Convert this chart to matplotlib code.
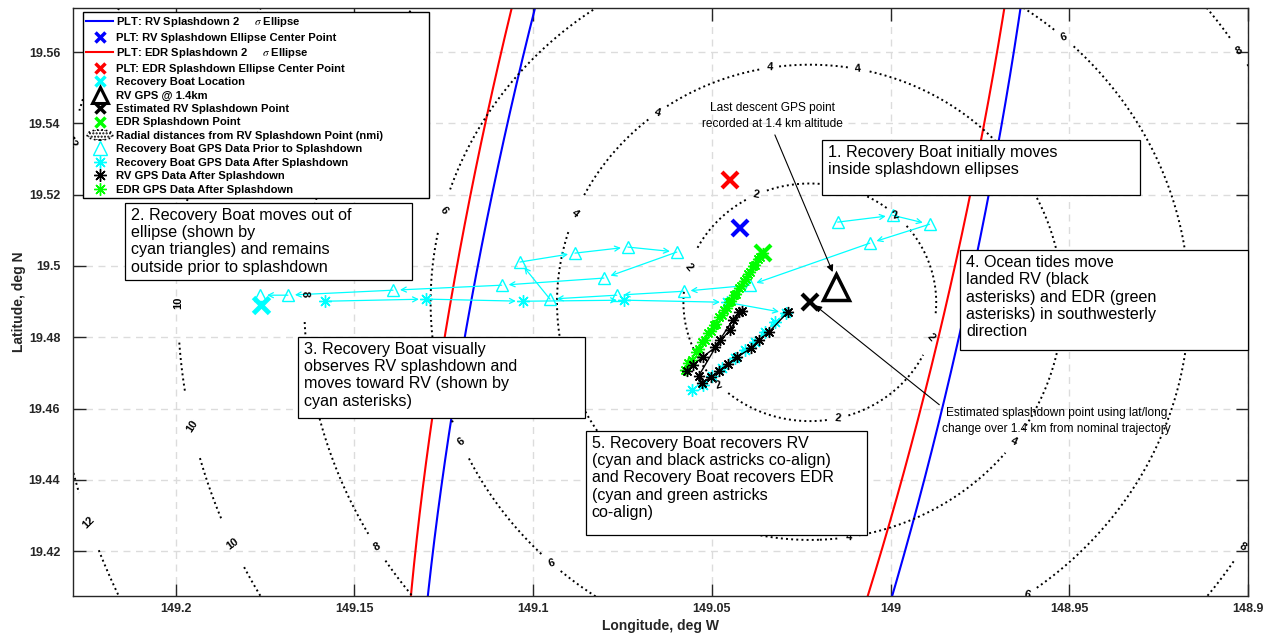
import numpy as np
import matplotlib
matplotlib.use('Agg')
import matplotlib.pyplot as plt
from matplotlib.lines import Line2D
from matplotlib.patches import Ellipse, Rectangle
from matplotlib.legend_handler import HandlerPatch

plt.rcParams['font.family'] = ['Liberation Sans', 'DejaVu Sans']
plt.rcParams['mathtext.fontset'] = 'stix'

# --- data (lon in deg W, lat in deg N) ---
rv_center = (149.0422, 19.5106)      # PLT RV ellipse center point
edr_center = (149.0450, 19.5241)     # PLT EDR ellipse center point
# 2-sigma ellipses: center lon, center lat, semi-major (nmi), semi-minor (nmi), heading (deg from N)
rv_ellipse = (149.0439, 19.5106, 17.7, 3.86, 11.2)
edr_ellipse = (149.0468, 19.5241, 17.6, 3.88, 11.3)

boat_loc = (149.1761, 19.4890)
rv_gps_14km = (149.0154, 19.4941)
rv_est = (149.0226, 19.4898)
edr_splash = (149.0358, 19.5036)

radii = [2, 4, 6, 8, 10, 12]

boat_prior_lon = [149.0148, 148.9994, 148.9891, 149.0058, 149.0394, 149.0579, 149.0766,
                  149.0953, 149.1037, 149.0883, 149.0735, 149.0598, 149.0802, 149.1088,
                  149.1392, 149.1686, 149.1764]
boat_prior_lat = [19.5123, 19.5142, 19.5117, 19.5064, 19.4946, 19.4929, 19.4918,
                  19.4907, 19.5011, 19.5036, 19.5053, 19.5039, 19.4966, 19.4946,
                  19.4932, 19.4918, 19.4918]

boat_after_lon = [149.1583, 149.1300, 149.1029, 149.0746, 149.0458, 149.0293, 149.0324,
                  149.0352, 149.0380, 149.0408, 149.0436, 149.0472, 149.0500, 149.0525,
                  149.0556]
boat_after_lat = [19.4901, 19.4907, 19.4901, 19.4904, 19.4898, 19.4868, 19.4842,
                  19.4814, 19.4786, 19.4764, 19.4741, 19.4713, 19.4691, 19.4666,
                  19.4652]

rv_after_lon = [149.0288, 149.0341, 149.0369, 149.0391, 149.0430, 149.0455, 149.0481,
                149.0503, 149.0528, 149.0537, 149.0478, 149.0442, 149.0425, 149.0416,
                149.0450, 149.0490, 149.0525, 149.0553, 149.0570]
rv_after_lat = [19.4870, 19.4814, 19.4792, 19.4769, 19.4744, 19.4725, 19.4705,
                19.4688, 19.4671, 19.4691, 19.4792, 19.4848, 19.4870, 19.4873,
                19.4820, 19.4772, 19.4745, 19.4722, 19.4705]

edr_after_lon = [149.0358, 149.0366, 149.0371, 149.0379, 149.0384, 149.0392, 149.0398,
                 149.0405, 149.0411, 149.0419, 149.0425, 149.0432, 149.0438, 149.0446,
                 149.0452, 149.0459, 149.0466, 149.0473, 149.0480, 149.0488, 149.0495,
                 149.0502, 149.0510, 149.0518, 149.0527, 149.0536, 149.0545, 149.0556,
                 149.0566, 149.0575]
edr_after_lat = [19.5036, 19.5024, 19.5019, 19.5003, 19.4999, 19.4983, 19.4978,
                 19.4963, 19.4959, 19.4943, 19.4939, 19.4922, 19.4918, 19.4901,
                 19.4898, 19.4882, 19.4877, 19.4861, 19.4856, 19.4838, 19.4834,
                 19.4817, 19.4811, 19.4793, 19.4786, 19.4766, 19.4759, 19.4736,
                 19.4727, 19.4708]

xticks = [149.2, 149.15, 149.1, 149.05, 149.0, 148.95, 148.9]
xtick_labels = ['149.2', '149.15', '149.1', '149.05', '149', '148.95', '148.9']
yticks = [19.42, 19.44, 19.46, 19.48, 19.5, 19.52, 19.54, 19.56]
ytick_labels = ['19.42', '19.44', '19.46', '19.48', '19.5', '19.52', '19.54', '19.56']


def nmi_to_deg(center, east, north):
    lon = center[0] - east / (60 * np.cos(np.radians(center[1])))
    lat = center[1] + north / 60
    return lon, lat


def ellipse_xy(params):
    clon, clat, a, b, phi = params
    t = np.linspace(0, 2 * np.pi, 721)
    p = np.radians(phi)
    east = a * np.cos(t) * np.sin(p) + b * np.sin(t) * np.cos(p)
    north = a * np.cos(t) * np.cos(p) - b * np.sin(t) * np.sin(p)
    return nmi_to_deg((clon, clat), east, north)


fig = plt.figure(figsize=(12.65, 6.36), dpi=100)
ax = fig.add_axes([0.0575, 0.0629, 0.9291, 0.9241])

# ellipses
ex, ey = ellipse_xy(rv_ellipse)
ax.plot(ex, ey, color='#0000ff', lw=1.5, zorder=2)
ex, ey = ellipse_xy(edr_ellipse)
ax.plot(ex, ey, color='#ff0000', lw=1.5, zorder=2)

# radial distance contours around the estimated RV splashdown point
glon = np.linspace(148.85, 149.30, 600)
glat = np.linspace(19.36, 19.62, 400)
LON, LAT = np.meshgrid(glon, glat)
dist = np.hypot((rv_est[0] - LON) * 60 * np.cos(np.radians(rv_est[1])), (LAT - rv_est[1]) * 60)
cs = ax.contour(LON, LAT, dist, levels=radii, colors='k', linestyles=':', linewidths=1.4, zorder=2)

label_angles = {2: [115, 163, 224, 283, 343, 47], 4: [99, 79, 127, 158, 324, 279],
                6: [165, 203, 227, 48, 305], 8: [179, 211, 32, 329],
                10: [180, 192, 204], 12: [167, 198]}
label_pos = []
for r, angs in label_angles.items():
    for a in angs:
        th = np.radians(a)
        label_pos.append(nmi_to_deg(rv_est, r * np.cos(th), r * np.sin(th)))
ax.clabel(cs, manual=label_pos, inline=True, fmt='%d', fontsize=8, inline_spacing=4)
for t in cs.labelTexts:
    t.set_fontweight('bold')

# boat track prior to splashdown
for i in range(len(boat_prior_lon) - 1):
    ax.annotate('', xy=(boat_prior_lon[i + 1], boat_prior_lat[i + 1]),
                xytext=(boat_prior_lon[i], boat_prior_lat[i]),
                arrowprops=dict(arrowstyle='->', color='#00ffff', lw=0.9,
                                shrinkA=0, shrinkB=5, mutation_scale=9), zorder=3)
ax.plot(boat_prior_lon, boat_prior_lat, ls='none', marker='^', ms=9, mfc='none',
        mec='#00ffff', mew=1, zorder=3)

# boat track after splashdown
for i in range(len(boat_after_lon) - 1):
    ax.annotate('', xy=(boat_after_lon[i + 1], boat_after_lat[i + 1]),
                xytext=(boat_after_lon[i], boat_after_lat[i]),
                arrowprops=dict(arrowstyle='->', color='#00ffff', lw=0.9,
                                shrinkA=0, shrinkB=5, mutation_scale=9), zorder=3)
ast = (8, 2, 0)
ax.plot(boat_after_lon, boat_after_lat, ls='none', marker=ast, ms=9,
        mec='#00ffff', mew=1, zorder=3)

ax.plot(edr_after_lon, edr_after_lat, color='#00ff00', lw=1, marker=ast, ms=8,
        mec='#00ff00', mew=1, zorder=4)
ax.plot(rv_after_lon, rv_after_lat, color='k', lw=1, marker=ast, ms=8,
        mec='k', mew=1, zorder=4)

# point markers
ax.plot(*rv_center, marker='x', ms=11, mew=3, color='#0000ff', zorder=5)
ax.plot(*edr_center, marker='x', ms=11, mew=3, color='#ff0000', zorder=5)
ax.plot(*boat_loc, marker='x', ms=12, mew=3.5, color='#00ffff', zorder=5)
ax.plot(*rv_est, marker='x', ms=11, mew=3, color='k', zorder=5)
ax.plot(*edr_splash, marker='x', ms=11, mew=3, color='#00ff00', zorder=5)
ax.plot(*rv_gps_14km, marker='^', ms=19, mew=2.5, mfc='none', mec='k', zorder=5)

# small annotations with arrows
ax.annotate('Last descent GPS point\nrecorded at 1.4 km altitude',
            xy=(149.0162, 19.4983), xytext=(149.0330, 19.5422), ha='center', va='center',
            fontsize=8.6, linespacing=1.45,
            arrowprops=dict(arrowstyle='-|>', color='k', lw=0.8, mutation_scale=10,
                            shrinkA=2, shrinkB=0, relpos=(0.5, 0)), zorder=6)
ax.annotate('Estimated splashdown point using lat/long\nchange over 1.4 km from nominal trajectory',
            xy=(149.0212, 19.4890), xytext=(148.9536, 19.4565), ha='center', va='center',
            fontsize=8.6, linespacing=1.45,
            arrowprops=dict(arrowstyle='-|>', color='k', lw=0.8, mutation_scale=10,
                            shrinkA=0, shrinkB=0, relpos=(0, 1)), zorder=6)

# text boxes (axes fraction: left, top, right, bottom)
notes = [
    ((0.6375, 0.7759, 0.9081, 0.6823), '1. Recovery Boat initially moves\ninside splashdown ellipses'),
    ((0.0445, 0.6687, 0.2887, 0.5377), '2. Recovery Boat moves out of\nellipse (shown by\ncyan triangles) and remains\noutside prior to splashdown'),
    ((0.1917, 0.4407, 0.4359, 0.3029), '3. Recovery Boat visually\nobserves RV splashdown and\nmoves toward RV (shown by\ncyan asterisks)'),
    ((0.7550, 0.5887, 1.0, 0.4186), '4. Ocean tides move\nlanded RV (black\nasterisks) and EDR (green\nasterisks) in southwesterly\ndirection'),
    ((0.4365, 0.2808, 0.6758, 0.1038), '5. Recovery Boat recovers RV\n(cyan and black astricks co-align)\nand Recovery Boat recovers EDR\n(cyan and green astricks\nco-align)'),
]
for (l, t, r, b), txt in notes:
    ax.add_patch(Rectangle((l, b), r - l, t - b, transform=ax.transAxes, fc='white',
                           ec='k', lw=0.9, zorder=6, clip_on=False))
    ax.text(l + 0.005, t - 0.008, txt, transform=ax.transAxes, ha='left', va='top',
            fontsize=11.6, linespacing=1.2, zorder=7)

# axes
ax.set_xlim(149.2288, 148.9)
ax.set_ylim(19.4074, 19.5723)
ax.set_xticks(xticks)
ax.set_xticklabels(xtick_labels)
ax.set_yticks(yticks)
ax.set_yticklabels(ytick_labels)
ax.tick_params(direction='in', length=9, width=1, top=True, right=True,
               labelsize=9, colors='#262626')
ax.tick_params(axis='x', pad=5)
ax.tick_params(axis='y', pad=9)
for lbl in ax.get_xticklabels() + ax.get_yticklabels():
    lbl.set_fontweight('bold')
ax.grid(True, linestyle=(0, (5, 4)), color='#dcdcdc', lw=1)
ax.set_axisbelow(True)
for s in ax.spines.values():
    s.set_color('#262626')
    s.set_linewidth(1)
ax.set_xlabel('Longitude, deg W', fontsize=10, fontweight='bold', color='#262626')
ax.set_ylabel('Latitude, deg N', fontsize=10, fontweight='bold', color='#262626')
ax.xaxis.set_label_coords(0.5, -0.039)
ax.yaxis.set_label_coords(-0.040, 0.5)


# legend
class HandlerEllipse(HandlerPatch):
    def create_artists(self, legend, orig_handle, xdescent, ydescent, width, height,
                       fontsize, trans):
        c = (0.5 * width - 0.5 * xdescent, 0.5 * height - 0.5 * ydescent)
        p = Ellipse(xy=c, width=width * 0.95, height=height * 1.3)
        self.update_prop(p, orig_handle, legend)
        p.set_transform(trans)
        return [p]


radial_proxy = Ellipse((0, 0), 1, 1, fc='none', ec='k', ls=':', lw=1.2, hatch='.....')
handles = [
    Line2D([], [], color='#0000ff', lw=1.5),
    Line2D([], [], ls='none', marker='x', ms=7, mew=2.5, color='#0000ff'),
    Line2D([], [], color='#ff0000', lw=1.5),
    Line2D([], [], ls='none', marker='x', ms=7, mew=2.5, color='#ff0000'),
    Line2D([], [], ls='none', marker='x', ms=7, mew=2.5, color='#00ffff'),
    Line2D([], [], ls='none', marker='^', ms=11, mew=2.2, mfc='none', mec='k'),
    Line2D([], [], ls='none', marker='x', ms=7, mew=2.5, color='k'),
    Line2D([], [], ls='none', marker='x', ms=7, mew=2.5, color='#00ff00'),
    radial_proxy,
    Line2D([], [], ls='none', marker='^', ms=10, mew=1, mfc='none', mec='#00ffff'),
    Line2D([], [], ls='none', marker=ast, ms=9, mew=1, mec='#00ffff'),
    Line2D([], [], ls='none', marker=ast, ms=9, mew=1, mec='k'),
    Line2D([], [], ls='none', marker=ast, ms=9, mew=1, mec='#00ff00'),
]
labels = [
    r'PLT: RV Splashdown 2     $\sigma$ Ellipse',
    'PLT: RV Splashdown Ellipse Center Point',
    r'PLT: EDR Splashdown 2     $\sigma$ Ellipse',
    'PLT: EDR Splashdown Ellipse Center Point',
    'Recovery Boat Location',
    'RV GPS @ 1.4km',
    'Estimated RV Splashdown Point',
    'EDR Splashdown Point',
    'Radial distances from RV Splashdown Point (nmi)',
    'Recovery Boat GPS Data Prior to Splashdown',
    'Recovery Boat GPS Data After Splashdown',
    'RV GPS Data After Splashdown',
    'EDR GPS Data After Splashdown',
]
leg = ax.legend(handles, labels, loc='upper left', bbox_to_anchor=(0.0088, 0.0, 0.2944, 0.9937),
                mode='expand', borderaxespad=0, prop={'size': 8.1, 'weight': 'bold'},
                fancybox=False, edgecolor='k', framealpha=1, labelspacing=0.305,
                handlelength=2.4, handletextpad=0.25, borderpad=0.3,
                handler_map={Ellipse: HandlerEllipse()})
leg.get_frame().set_linewidth(1)
leg.set_zorder(8)

fig.savefig('out.png', dpi=100)
